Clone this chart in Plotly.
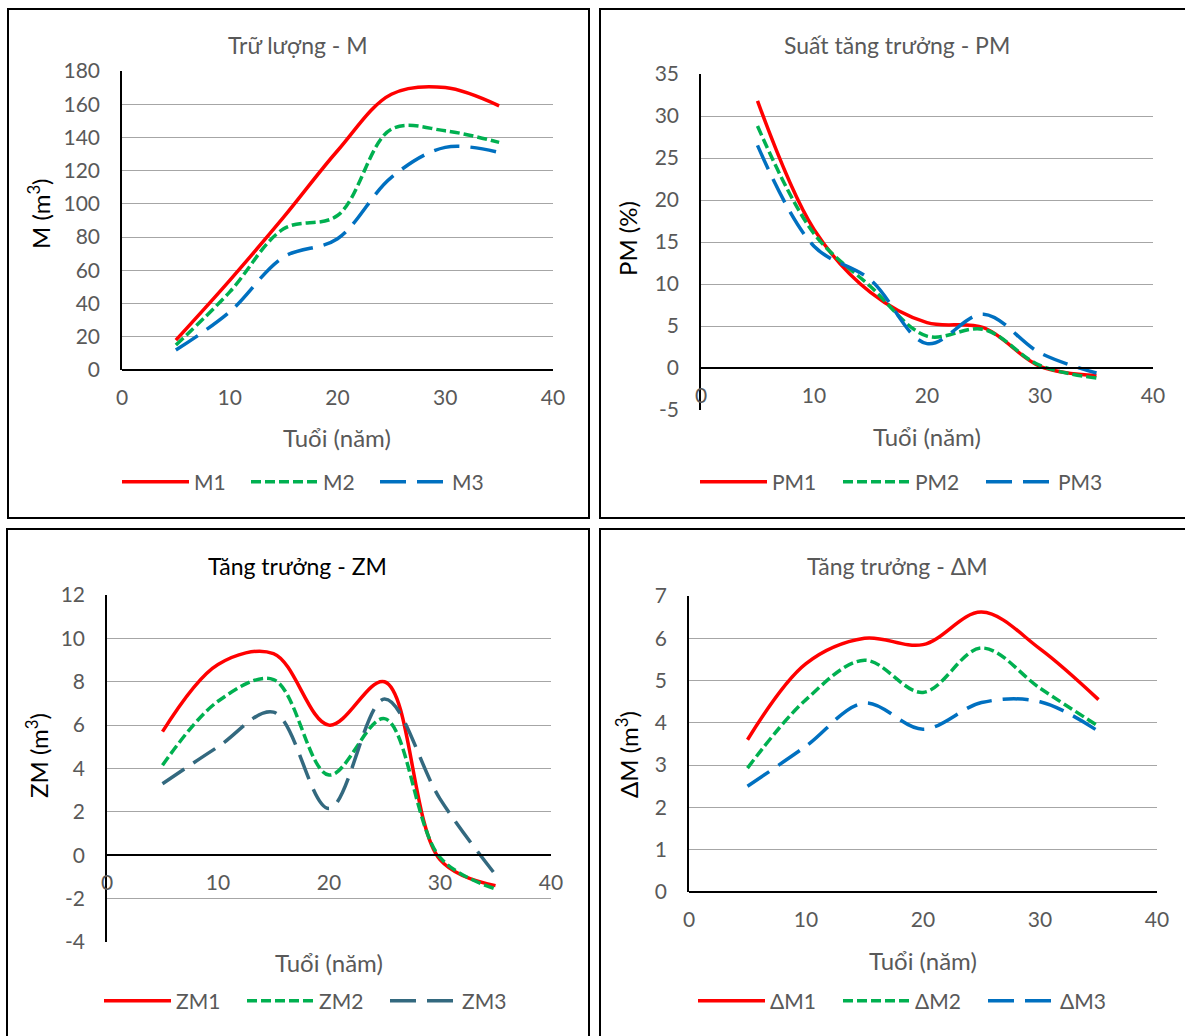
import plotly.graph_objects as go

W, H = 1185, 1036

# ---------------- data ----------------
age = [5, 10, 15, 20, 25, 30, 35]

M1 = [18, 54, 92, 132, 166, 170, 159]
M2 = [15, 47, 85, 93, 145, 144, 137]
M3 = [12, 35, 68, 79, 116, 134, 131]

PM1 = [31.8, 16.5, 9.0, 5.4, 4.8, 0.2, -0.9]
PM2 = [28.8, 16.0, 9.7, 3.8, 4.6, 0.3, -1.2]
PM3 = [26.5, 14.5, 10.5, 2.9, 6.4, 1.8, -0.6]

ZM1 = [5.7, 8.8, 9.3, 6.0, 8.0, -0.2, -1.4]
ZM2 = [4.15, 7.1, 8.1, 3.7, 6.3, -0.1, -1.55]
ZM3 = [3.3, 5.0, 6.6, 2.15, 7.2, 2.6, -0.9]

DM1 = [3.6, 5.4, 6.0, 5.85, 6.62, 5.75, 4.55]
DM2 = [2.93, 4.55, 5.48, 4.72, 5.77, 4.82, 3.92]
DM3 = [2.5, 3.45, 4.47, 3.85, 4.48, 4.5, 3.8]

# y tick values (labels written with a plain hyphen as in the source)
yticks_M = [0, 20, 40, 60, 80, 100, 120, 140, 160, 180]
yticks_PM = [-5, 0, 5, 10, 15, 20, 25, 30, 35]
yticks_ZM = [-4, -2, 0, 2, 4, 6, 8, 10, 12]
yticks_DM = [0, 1, 2, 3, 4, 5, 6, 7]
xticks = [0, 10, 20, 30, 40]

titles = ["Trữ lượng - M", "Suất tăng trưởng - PM", "Tăng trưởng - ZM", "Tăng trưởng - ΔM"]
ytitles = ["M (m<sup>3</sup>)", "PM (%)", "ZM (m<sup>3</sup>)", "ΔM (m<sup>3</sup>)"]
xtitle = "Tuổi (năm)"
names = [["M1", "M2", "M3"], ["PM1", "PM2", "PM3"], ["ZM1", "ZM2", "ZM3"], ["ΔM1", "ΔM2", "ΔM3"]]
series = [[M1, M2, M3], [PM1, PM2, PM3], [ZM1, ZM2, ZM3], [DM1, DM2, DM3]]
yticks = [yticks_M, yticks_PM, yticks_ZM, yticks_DM]

# ---------------- layout geometry (pixels) ----------------
FONT = "Lato, 'Open Sans', sans-serif"
GREY = "#595959"
plot_px = [  # x0, x1, ytop, ybottom
    (122, 553, 71, 370),
    (701, 1153, 74, 410),
    (107, 551, 595, 942),
    (689, 1157, 596, 892),
]
title_px = [(298, 45), (897, 45), (297, 566), (897, 566)]
ytitle_px = [(39, 214), (627, 239), (37, 756), (627, 755)]
xtitle_px = [(337, 437), (927, 436), (329, 962), (923, 960)]
legend_px = [(117, 482), (695, 482), (99, 1001), (693, 1001)]
entry_w = [47, 61, 61, 63]
panel_px = [(8, 9, 589, 518), (600, 9, 1190, 518), (7, 529, 589, 1045), (600, 529, 1190, 1045)]

colors = [["#FF0000", "#00B050", "#0070C0"], ["#FF0000", "#00B050", "#0070C0"],
          ["#FF0000", "#00B050", "#33697F"], ["#FF0000", "#00B050", "#0070C0"]]
dashes = ["solid", "10px,4px", "26px,11px"]


def fx(px):
    return px / W


def fy(py):
    return 1 - py / H


fig = go.Figure()
layout = dict(
    width=W, height=H, margin=dict(l=0, r=0, t=0, b=0, autoexpand=False),
    paper_bgcolor="white", plot_bgcolor="white",
    font=dict(family=FONT, size=20, color=GREY),
    shapes=[], annotations=[],
)

for i in range(4):
    k = "" if i == 0 else str(i + 1)
    lg = "legend" if i == 0 else "legend" + str(i + 1)
    for j in range(3):
        fig.add_trace(go.Scatter(
            x=age, y=series[i][j], name=names[i][j], mode="lines",
            line=dict(color=colors[i][j], width=3.5, dash=dashes[j], shape="spline", smoothing=1),
            xaxis="x" + k, yaxis="y" + k, legend=lg,
        ))
    x0, x1, yt, yb = plot_px[i]
    tv = yticks[i]
    ymin, ymax = tv[0], tv[-1]
    dom_y = [fy(yb), fy(yt)]
    zero_pos = dom_y[0] + (0 - ymin) / (ymax - ymin) * (dom_y[1] - dom_y[0])
    layout["xaxis" + k] = dict(
        domain=[fx(x0), fx(x1)], range=[xticks[0], xticks[-1]],
        tickmode="array", tickvals=xticks, ticktext=[str(v) for v in xticks],
        anchor="free", position=zero_pos, automargin=False,
        showline=True, linecolor="black", linewidth=1.5,
        showgrid=False, zeroline=False, ticks="",
        ticklabelstandoff=9, tickfont=dict(size=21, color=GREY, family=FONT),
    )
    layout["yaxis" + k] = dict(
        domain=dom_y, range=[ymin, ymax],
        tickmode="array", tickvals=tv, ticktext=[str(v) for v in tv],
        anchor="x" + k, automargin=False,
        showline=True, linecolor="black", linewidth=1.5,
        showgrid=True, gridcolor="#A6A6A6", gridwidth=1,
        zeroline=False, ticks="",
        ticklabelstandoff=16, tickfont=dict(size=21, color=GREY, family=FONT),
    )
    lx, ly = legend_px[i]
    layout[lg] = dict(
        orientation="h", x=fx(lx), y=fy(ly), xanchor="left", yanchor="middle",
        font=dict(size=21, color=GREY, family=FONT), bgcolor="rgba(0,0,0,0)",
        entrywidth=entry_w[i], itemwidth=67,
    )
    # panel frame
    px0, py0, px1, py1 = panel_px[i]
    layout["shapes"].append(dict(type="rect", xref="paper", yref="paper",
                                 x0=fx(px0), x1=fx(px1), y0=fy(py1), y1=fy(py0),
                                 line=dict(color="black", width=2), fillcolor="rgba(0,0,0,0)"))
    tx, ty = title_px[i]
    layout["annotations"].append(dict(
        text=titles[i], xref="paper", yref="paper", x=fx(tx), y=fy(ty),
        xanchor="center", yanchor="middle", showarrow=False,
        font=dict(size=23, color=("black" if i == 2 else GREY), family=FONT)))
    ax_, ay_ = ytitle_px[i]
    layout["annotations"].append(dict(
        text=ytitles[i], xref="paper", yref="paper", x=fx(ax_), y=fy(ay_),
        xanchor="center", yanchor="middle", showarrow=False, textangle=-90,
        font=dict(size=24, color="black", family=FONT)))
    bx, by = xtitle_px[i]
    layout["annotations"].append(dict(
        text=xtitle, xref="paper", yref="paper", x=fx(bx), y=fy(by),
        xanchor="center", yanchor="middle", showarrow=False,
        font=dict(size=24, color=GREY, family=FONT)))

fig.update_layout(**layout)
fig.write_html("out.html", config={"displayModeBar": False},
               post_script="document.body.style.margin='0';document.body.style.overflow='hidden';")
